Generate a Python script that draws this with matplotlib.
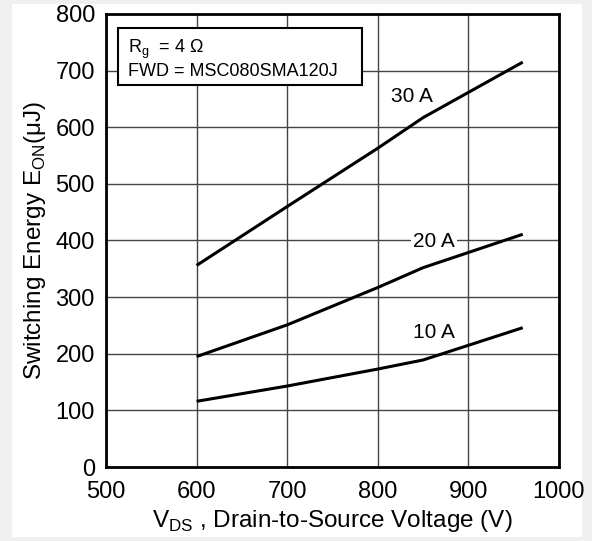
#!/usr/bin/env python3

import matplotlib.pyplot as plt
from matplotlib.patches import Rectangle

plt.rcParams["font.family"] = ["Liberation Sans", "DejaVu Sans"]

vds = [600, 700, 800, 850, 960]
eon_10a = [116, 143, 173, 189, 246]
eon_20a = [195, 251, 317, 352, 411]
eon_30a = [356, 460, 563, 617, 715]

curve_labels = ["10 A", "20 A", "30 A"]
label_pos = [(862, 237), (862, 399), (838, 654)]

x_ticks = [500, 600, 700, 800, 900, 1000]
y_ticks = [0, 100, 200, 300, 400, 500, 600, 700, 800]

if __name__ == "__main__":
    fig = plt.figure(figsize=(5.92, 5.41), dpi=100, facecolor="#f0f0f0")
    fig.patches.append(Rectangle((12 / 592, 4 / 541), 570 / 592, 533 / 541,
                                 transform=fig.transFigure, facecolor="white",
                                 edgecolor="none", zorder=-10))
    ax = fig.add_axes([106 / 592, 74 / 541, 453 / 592, 453 / 541])
    ax.set_facecolor("white")

    for e in (eon_10a, eon_20a, eon_30a):
        ax.plot(vds, e, color="black", lw=2.2, solid_capstyle="butt", zorder=3)

    for lab, (x, y) in zip(curve_labels, label_pos):
        ax.text(x, y, lab, fontsize=15, ha="center", va="center", zorder=4,
                bbox=dict(facecolor="white", edgecolor="none", pad=1.5))

    ax.set_xlim(500, 1000)
    ax.set_ylim(0, 800)
    ax.set_xticks(x_ticks)
    ax.set_yticks(y_ticks)
    ax.grid(True, color="#444444", lw=1.0)
    ax.set_axisbelow(True)
    ax.tick_params(length=0, labelsize=17, pad=8)
    ax.tick_params(axis="x", pad=10)
    for s in ax.spines.values():
        s.set_linewidth(2)

    ax.set_xlabel(r"V$_{\mathregular{DS}}$ , Drain-to-Source Voltage (V)",
                  fontsize=17.5, labelpad=4)
    ax.set_ylabel(r"Switching Energy E$_{\mathregular{ON}}$($\mathregular{\mu}$J)",
                  fontsize=17.5, labelpad=5)

    # conditions box
    ax.add_patch(Rectangle((0.0265, 0.843), 0.538, 0.126, transform=ax.transAxes,
                           facecolor="white", edgecolor="black", lw=1.5, zorder=5))
    ax.text(0.048, 0.922, "R$_{\\mathregular{g}}$  = 4 $\\mathregular{\\Omega}$",
            transform=ax.transAxes, fontsize=13, va="center", ha="left", zorder=6)
    ax.text(0.048, 0.872, "FWD = MSC080SMA120J",
            transform=ax.transAxes, fontsize=13, va="center", ha="left", zorder=6)

    fig.savefig("out.png", dpi=100, facecolor=fig.get_facecolor())
